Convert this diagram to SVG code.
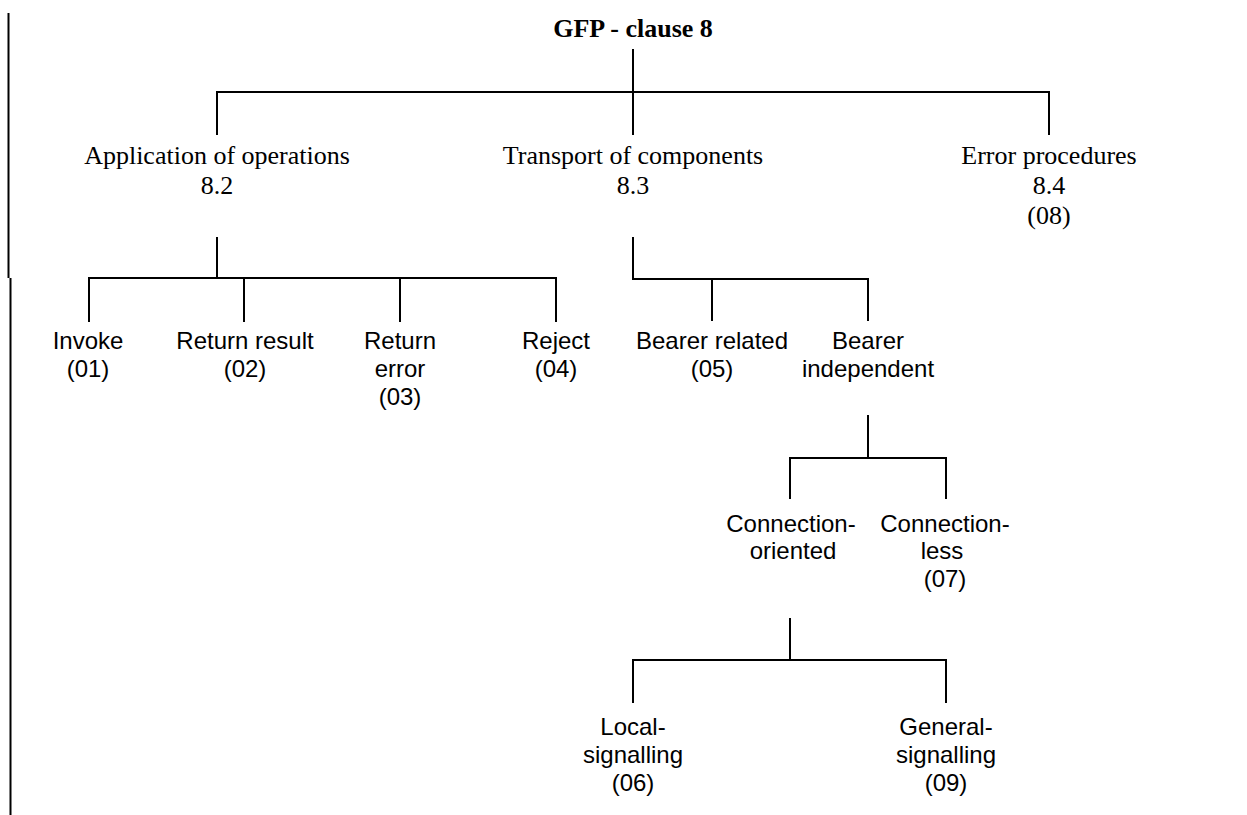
<svg xmlns="http://www.w3.org/2000/svg" width="1247" height="815" viewBox="0 0 1247 815">
<style>
.ln{stroke:#000;stroke-width:2;fill:none;stroke-linecap:butt}
.tr{font-family:"Liberation Serif","Times New Roman",serif;font-size:26px;fill:#000;text-anchor:middle}
.trb{font-weight:bold}
.ar{font-family:"Liberation Sans",Arial,sans-serif;font-size:24px;fill:#000;text-anchor:middle}
</style>
<rect width="1247" height="815" fill="#fff"/>
<g id="connectors">
<path class="ln" d="M8.5 13V278M10.5 278V815"/>
<path class="ln" d="M633 49V135M217 92H1049M217 91V135M1049 91V135"/>
<path class="ln" d="M217 237V278M88 278H557M89 277V322M244 278V322M400 278V322M556 277V322"/>
<path class="ln" d="M633 237V279M632 279H869M712 279V321M868 278V321"/>
<path class="ln" d="M868 415V458M789 458H947M790 457V499M946 457V499"/>
<path class="ln" d="M790 618V660M632 660H947M633 659V703M946 659V703"/>
</g>
<g id="root"><text class="tr trb" x="633" y="37">GFP - clause 8</text></g>
<g id="app-ops"><text class="tr" x="217" y="164">Application of operations</text><text class="tr" x="217" y="194">8.2</text></g>
<g id="transport"><text class="tr" x="633" y="164">Transport of components</text><text class="tr" x="633" y="194">8.3</text></g>
<g id="error-proc"><text class="tr" x="1049" y="164">Error procedures</text><text class="tr" x="1049" y="194">8.4</text><text class="tr" x="1049" y="224">(08)</text></g>
<g id="invoke"><text class="ar" x="88" y="349">Invoke</text><text class="ar" x="88" y="377">(01)</text></g>
<g id="return-result"><text class="ar" x="245" y="349">Return result</text><text class="ar" x="245" y="377">(02)</text></g>
<g id="return-error"><text class="ar" x="400" y="349">Return</text><text class="ar" x="400" y="377">error</text><text class="ar" x="400" y="405">(03)</text></g>
<g id="reject"><text class="ar" x="556" y="349">Reject</text><text class="ar" x="556" y="377">(04)</text></g>
<g id="bearer-related"><text class="ar" x="712" y="349">Bearer related</text><text class="ar" x="712" y="377">(05)</text></g>
<g id="bearer-independent"><text class="ar" x="868" y="349">Bearer</text><text class="ar" x="868" y="377">independent</text></g>
<g id="conn-oriented"><text class="ar" x="791" y="532">Connection-</text><text class="ar" x="793" y="559">oriented</text></g>
<g id="conn-less"><text class="ar" x="945" y="532">Connection-</text><text class="ar" x="942" y="559">less</text><text class="ar" x="945" y="587">(07)</text></g>
<g id="local-sig"><text class="ar" x="633" y="735">Local-</text><text class="ar" x="633" y="763">signalling</text><text class="ar" x="633" y="791">(06)</text></g>
<g id="general-sig"><text class="ar" x="946" y="735">General-</text><text class="ar" x="946" y="763">signalling</text><text class="ar" x="946" y="791">(09)</text></g>
</svg>
